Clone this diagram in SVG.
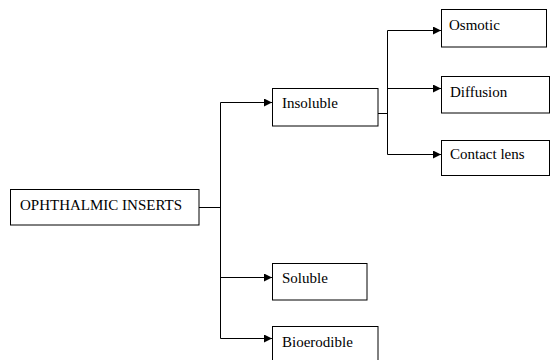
<svg xmlns="http://www.w3.org/2000/svg" width="551" height="360" viewBox="0 0 551 360">
<defs>
<marker id="ah" viewBox="0 0 10 10" refX="10" refY="5" markerWidth="8" markerHeight="8" markerUnits="userSpaceOnUse" orient="auto">
<path d="M0,0 L10,5 L0,10 Z" fill="#000"/>
</marker>
</defs>
<style>
.box{fill:#fff;stroke:#000;stroke-width:1}
.t{font-family:"Liberation Serif","Times New Roman",serif;font-size:15px;fill:#000}
.c{fill:none;stroke:#000;stroke-width:1}
</style>
<rect width="551" height="360" fill="#fff"/>
<g id="connectors">
<path class="c" d="M199,207.5 H220.5"/>
<path class="c" d="M220.5,102.5 V338.5"/>
<path class="c" d="M220.5,102.5 H272" marker-end="url(#ah)"/>
<path class="c" d="M220.5,277.5 H272" marker-end="url(#ah)"/>
<path class="c" d="M220.5,338.5 H272" marker-end="url(#ah)"/>
<path class="c" d="M378,113.5 H387.5"/>
<path class="c" d="M387.5,30.5 V154.5"/>
<path class="c" d="M387.5,30.5 H441" marker-end="url(#ah)"/>
<path class="c" d="M387.5,88.5 H441" marker-end="url(#ah)"/>
<path class="c" d="M387.5,154.5 H441" marker-end="url(#ah)"/>
</g>
<g id="node-ophthalmic">
<rect class="box" x="10.5" y="189.5" width="188.5" height="35.5"/>
<text class="t" x="20" y="210">OPHTHALMIC INSERTS</text>
</g>
<g id="node-insoluble">
<rect class="box" x="272.5" y="88.5" width="105.5" height="37.5"/>
<text class="t" x="282" y="108">Insoluble</text>
</g>
<g id="node-soluble">
<rect class="box" x="272.5" y="263.5" width="94.5" height="36.5"/>
<text class="t" x="282" y="283">Soluble</text>
</g>
<g id="node-bioerodible">
<rect class="box" x="272.5" y="326.5" width="105.5" height="40"/>
<text class="t" x="282" y="347">Bioerodible</text>
</g>
<g id="node-osmotic">
<rect class="box" x="441.5" y="9.5" width="105" height="37.5"/>
<text class="t" x="449" y="30">Osmotic</text>
</g>
<g id="node-diffusion">
<rect class="box" x="441.5" y="76.5" width="108" height="36.5"/>
<text class="t" x="450" y="97">Diffusion</text>
</g>
<g id="node-contact">
<rect class="box" x="441.5" y="140.5" width="108" height="35"/>
<text class="t" x="450" y="159">Contact lens</text>
</g>
</svg>
